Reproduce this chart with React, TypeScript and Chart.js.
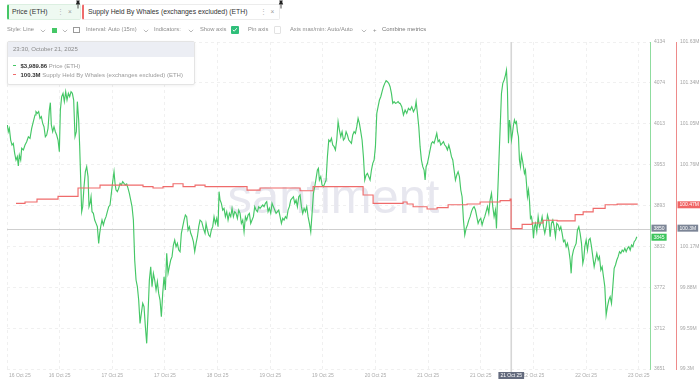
import React, { useEffect, useRef } from 'react';
import { Chart, registerables } from 'chart.js';

Chart.register(...registerables);

const FONT = '"Liberation Sans", Arial, sans-serif';

// Hours since the start of the visible range
const priceHours = [
  0.09, 0.35, 0.62, 0.98, 1.33, 1.68, 2.04, 2.39, 2.75, 3.01, 3.28, 3.64, 3.9, 4.35, 4.79, 5.23, 5.68, 6.12, 6.56, 7.0,
  7.45, 7.71, 8.07, 8.42, 8.78, 9.13, 9.49, 9.84, 10.2, 10.55, 10.91, 11.26, 11.53, 11.79, 12.15, 12.5, 12.86, 13.21, 13.57, 13.92,
  14.19, 14.54, 14.9, 15.25, 15.61, 15.96, 16.32, 16.67, 17.03, 17.38, 17.73, 18.09, 18.44, 18.71, 19.06, 19.33, 19.6, 19.86, 20.13, 20.48,
  20.84, 21.19, 21.55, 21.81, 22.08, 22.35, 22.61, 22.97, 23.32, 23.68, 24.03, 24.38, 24.65, 24.92, 25.27, 25.63, 25.98, 26.34, 26.69, 27.05,
  27.4, 27.75, 28.11, 28.46, 28.73, 29.0, 29.35, 29.7, 30.06, 30.41, 30.77, 31.12, 31.48, 31.83, 32.19, 32.54, 32.9, 33.25, 33.61, 33.96,
  34.32, 34.67, 35.02, 35.38, 35.73, 36.09, 36.44, 36.8, 37.15, 37.51, 37.86, 38.22, 38.57, 38.93, 39.28, 39.64, 39.99, 40.34, 40.7, 41.05,
  41.41, 41.76, 42.12, 42.47, 42.83, 43.18, 43.54, 43.89, 44.25, 44.6, 44.96, 45.31, 45.67, 46.02, 46.37, 46.73, 47.08, 47.44, 47.79, 48.15,
  48.5, 48.86, 49.21, 49.57, 49.92, 50.28, 50.63, 50.99, 51.34,
  51.78, 52.23, 52.67, 52.94, 53.29, 53.65, 54.0, 54.35, 54.71, 55.06, 55.42, 55.77, 56.13, 56.39, 56.66, 57.01, 57.37, 57.72, 58.08, 58.43,
  58.79, 59.14, 59.5, 59.85, 60.21, 60.56, 60.92, 61.27, 61.63, 61.98, 62.33, 62.69, 63.04, 63.4, 63.75, 64.11, 64.46, 64.82, 65.17, 65.53,
  65.88, 66.24, 66.59, 66.95, 67.3, 67.66, 68.01, 68.36, 68.72, 69.07, 69.43, 69.78, 70.14, 70.49, 70.85, 71.2, 71.56, 71.91, 72.27, 72.62,
  72.98, 73.33, 73.68, 74.04, 74.39, 74.75, 75.1, 75.46, 75.81, 76.17, 76.52, 76.88, 77.23, 77.59, 77.94, 78.3, 78.65, 79.01, 79.36, 79.71,
  80.07, 80.42, 80.78, 81.13, 81.49, 81.84, 82.2, 82.55, 82.82, 83.08, 83.44, 83.79, 84.15, 84.5, 84.86, 85.21, 85.57, 85.92, 86.28, 86.63,
  86.99, 87.34, 87.69, 88.05, 88.4, 88.76, 89.11, 89.47, 89.82, 90.18, 90.53, 90.89, 91.24, 91.6, 91.95, 92.31, 92.66, 93.02, 93.37, 93.72,
  94.08, 94.43, 94.79, 95.14, 95.5, 95.85, 96.21, 96.56, 96.92, 97.27, 97.63, 97.98, 98.34, 98.69, 99.05, 99.4, 99.75, 100.11, 100.46, 100.82,
  101.17, 101.53, 101.88, 102.24, 102.59, 102.95, 103.3, 103.66, 104.01, 104.37,
  104.54, 104.98, 105.43, 105.87, 106.31, 106.76, 107.2, 107.64, 108.09, 108.53, 108.8, 109.15, 109.51, 109.86, 110.21, 110.57, 110.92, 111.19, 111.46, 111.81,
  112.17, 112.52, 112.88, 113.23, 113.58, 113.94, 114.29, 114.65, 115.0, 115.36, 115.71, 116.07, 116.42, 116.78, 117.13, 117.49, 117.84, 118.2, 118.55, 118.9,
  119.26, 119.61, 119.97, 120.32, 120.68, 121.03, 121.39, 121.74, 122.1, 122.45, 122.81, 123.16, 123.52, 123.87, 124.22, 124.58, 124.93, 125.29, 125.64, 126.0,
  126.35, 126.71, 127.06, 127.42, 127.77, 128.13, 128.48, 128.84, 129.19, 129.54, 129.9, 130.17, 130.43, 130.7, 130.96, 131.23, 131.5, 131.85, 132.21, 132.56,
  132.83, 133.09, 133.36, 133.63, 133.89, 134.16, 134.42, 134.69, 134.95, 135.22, 135.49, 135.75, 136.02, 136.28, 136.55, 136.82, 137.08, 137.35, 137.61, 137.88,
  138.15, 138.41, 138.68, 138.94, 139.21, 139.48, 139.74, 140.01, 140.27, 140.54, 140.89, 141.25, 141.6, 141.96, 142.31, 142.67, 143.02, 143.38, 143.73, 144.09,
  144.44, 144.8, 145.15, 145.51, 145.86, 146.21, 146.57, 146.92, 147.28, 147.63, 147.99, 148.34, 148.7, 149.05, 149.41, 149.76, 150.03, 150.29, 150.65, 151.0,
  151.36, 151.71, 152.07, 152.42, 152.78, 153.13, 153.4, 153.66, 154.02, 154.37, 154.73, 155.08, 155.44, 155.79, 156.15, 156.5, 156.86, 157.21, 157.56, 157.92,
  158.27, 158.63, 158.98, 159.34, 159.69, 160.05, 160.4, 160.76, 161.11, 161.47, 161.82, 162.18, 162.53, 162.89, 163.24, 163.6, 163.95, 164.31, 164.66, 165.02,
  165.37, 165.73, 166.08, 166.44, 166.79, 167.15, 167.5,
];

const priceValues = [
  4011.4, 4001.5, 4006.5, 3989.2, 3981.8, 3984.3, 3969.5, 3959.7, 3964.6, 3950.8, 3967.1, 3959.7, 3976.9, 3974.5, 3981.8, 3986.8, 3994.1, 3991.7, 4006.5, 4016.3,
  4026.2, 4031.1, 4028.6, 4031.1, 4021.2, 4023.7, 4013.8, 4008.9, 3994.1, 3996.6, 4006.5, 4033.5, 4044.4, 4011.4, 4001.5, 4008.9, 4001.5, 3996.6, 3989.2, 3972.0,
  4033.5, 4053.2, 4058.2, 4045.9, 4060.6, 4048.3, 4058.2, 4053.2, 4060.6, 4058.2, 4048.3, 3994.1, 4001.5, 4045.9, 4018.8, 3979.4, 3930.1, 3883.4, 3890.8, 3920.3,
  3942.4, 3949.8, 3935.1, 3890.8, 3895.7, 3905.5, 3883.4, 3880.9, 3871.0, 3866.1, 3861.2, 3836.6, 3851.4, 3861.2, 3871.0, 3863.7, 3871.0, 3876.0, 3883.4, 3890.8,
  3893.2, 3910.4, 3927.7, 3942.4, 3925.2, 3915.4, 3912.9, 3917.8, 3925.2, 3922.8, 3927.7, 3925.2, 3922.8, 3924.2, 3917.8, 3910.4, 3900.6, 3890.8, 3871.0, 3812.0,
  3782.4, 3772.6, 3752.9, 3718.4, 3733.2, 3748.0, 3743.0, 3713.5, 3688.9, 3733.2, 3782.4, 3802.1, 3772.6, 3792.3, 3782.4, 3767.6, 3780.0, 3762.7, 3752.9, 3728.3,
  3762.7, 3787.3, 3767.6, 3821.8, 3792.3, 3802.1, 3812.0, 3816.9, 3834.1, 3841.5, 3831.7, 3836.6, 3826.7, 3824.3, 3851.4, 3861.2, 3871.0, 3878.4, 3876.0, 3856.3,
  3861.2, 3851.4, 3846.4, 3839.0, 3824.3, 3836.6, 3846.4, 3861.2, 3871.0,
  3868.6, 3858.7, 3851.4, 3866.1, 3856.3, 3848.9, 3846.4, 3856.3, 3861.2, 3876.0, 3866.1, 3873.5, 3861.2, 3912.9, 3900.6, 3895.7, 3885.8, 3888.3, 3876.0, 3883.4,
  3871.0, 3880.9, 3876.0, 3888.3, 3876.0, 3883.4, 3880.9, 3873.5, 3885.8, 3880.9, 3866.1, 3871.0, 3853.8, 3876.0, 3871.0, 3878.4, 3880.9, 3866.1, 3871.0, 3876.0,
  3890.8, 3885.8, 3883.4, 3890.8, 3888.3, 3890.8, 3893.2, 3890.8, 3895.7, 3898.1, 3883.4, 3888.3, 3880.9, 3895.7, 3890.8, 3885.8, 3880.9, 3883.4, 3885.8, 3876.0,
  3866.1, 3873.5, 3871.0, 3876.0, 3873.5, 3885.8, 3890.8, 3900.6, 3903.1, 3905.5, 3895.7, 3900.6, 3890.8, 3905.5, 3908.0, 3890.8, 3880.9, 3888.3, 3883.4, 3890.8,
  3876.0, 3866.1, 3853.8, 3880.9, 3910.4, 3920.3, 3932.6, 3944.9, 3947.4, 3930.1, 3935.1, 3922.8, 3920.3, 3925.2, 3930.1, 3964.6, 3989.2, 3986.8, 3991.7, 3981.8,
  3979.4, 3974.5, 3989.2, 4016.3, 4004.0, 3994.1, 4001.5, 3989.2, 3991.7, 4001.5, 3996.6, 3989.2, 3986.8, 3984.3, 3996.6, 4001.5, 3999.1, 4008.9, 4021.2, 4013.8,
  4001.5, 3989.2, 3964.6, 3930.1, 3937.5, 3940.0, 3935.1, 3930.1, 3944.9, 3954.8, 3959.7, 3979.4, 4028.6, 4038.5, 4048.3, 4053.2, 4060.6, 4068.0, 4072.9, 4076.9,
  4075.4, 4072.9, 4068.0, 4058.2, 4043.4, 4045.9, 4043.4, 4044.4, 4045.9, 4043.4,
  4043.4, 4038.5, 4026.2, 4033.5, 4028.6, 4036.0, 4033.5, 4038.5, 4031.1, 4036.0, 4045.9, 4028.6, 4008.9, 3979.4, 3959.7, 3949.8, 3944.9, 3930.1, 3949.8, 3954.8,
  3964.6, 3974.5, 3984.3, 3986.8, 3984.3, 3991.7, 3999.1, 3986.8, 3989.2, 3981.8, 3984.3, 3986.8, 3981.8, 3979.4, 3974.5, 3981.8, 3974.5, 3964.6, 3959.7, 3944.9,
  3930.1, 3937.5, 3942.4, 3935.1, 3915.4, 3905.5, 3871.0, 3848.9, 3858.7, 3863.7, 3871.0, 3876.0, 3883.4, 3888.3, 3890.8, 3885.8, 3876.0, 3866.1, 3871.0, 3873.5,
  3863.7, 3871.0, 3876.0, 3883.4, 3890.8, 3880.9, 3900.6, 3910.4, 3890.8, 3876.0, 3885.8, 3858.7, 3900.6, 3940.0, 3979.4, 4018.8, 4058.2, 4072.9, 4077.9, 4085.2,
  4092.6, 4063.1, 3984.3, 4018.8, 4008.9, 3989.2, 3999.1, 4011.4, 4018.8, 4013.8, 4016.3, 4001.5, 3994.1, 3959.7, 3949.8, 3967.1, 3959.7, 3949.8, 3940.0, 3944.9,
  3925.2, 3905.5, 3915.4, 3900.6, 3873.5, 3876.0, 3866.1, 3844.0, 3861.2, 3866.1, 3853.8, 3876.0, 3861.2, 3866.1, 3876.0, 3861.2, 3851.4, 3861.2, 3878.4, 3871.0,
  3846.4, 3866.1, 3871.0, 3861.2, 3846.4, 3866.1, 3863.7, 3856.3, 3861.2, 3851.4, 3839.0, 3841.5, 3831.7, 3836.6, 3826.7, 3812.0, 3792.3, 3816.9, 3826.7, 3831.7,
  3836.6, 3856.3, 3861.2, 3851.4, 3836.6, 3807.0, 3814.4, 3831.7, 3841.5, 3826.7, 3841.5, 3844.0, 3831.7, 3816.9, 3802.1, 3812.0, 3821.8, 3812.0, 3816.9, 3797.2,
  3802.1, 3787.3, 3772.6, 3730.7, 3743.0, 3752.9, 3757.8, 3748.0, 3772.6, 3799.7, 3804.6, 3812.0, 3816.9, 3824.3, 3821.8, 3826.7, 3824.3, 3829.2, 3824.3, 3829.2,
  3831.7, 3826.7, 3834.1, 3831.7, 3839.0, 3841.5, 3846.4,
];

// Whale supply in millions of ETH (changes only)
const supplyHours = [
  2.39, 4.79, 7.98, 13.57, 18.89, 24.74, 36.18, 38.84, 41.5, 44.16, 46.82, 50.01, 52.67, 63.84, 67.3, 77.94, 81.4, 94.7, 97.36, 105.34,
  106.4, 108.0, 111.72, 114.38, 117.31, 122.36, 125.82, 131.14, 133.8, 134.06, 136.99, 139.65, 142.58, 146.3, 151.09, 153.22, 155.88, 159.07, 162.26, 167.58,
];
const supplyValues = [
  100.48, 100.49, 100.51, 100.53, 100.59, 100.61, 100.6, 100.59, 100.6, 100.62, 100.6, 100.61, 100.6, 100.575, 100.59, 100.57, 100.6, 100.54, 100.48, 100.49,
  100.476, 100.456, 100.44, 100.45, 100.47, 100.476, 100.49, 100.5, 100.51, 100.3, 100.33, 100.34, 100.36, 100.355, 100.4, 100.42, 100.445, 100.47, 100.475, 100.47,
];

const priceMin = 3651;
const priceMax = 4134;
const priceTickLabels = ['3651', '3712', '3772', '3832', '3893', '3953', '4013', '4074', '4134'];
const supplyMin = 99.3;
const supplyMax = 101.63;
const supplyTickLabels = ['99.3M', '99.59M', '99.88M', '100.17M', '100.47M', '100.76M', '101.05M', '101.34M', '101.63M'];
const xMin = 0;
const xMax = 171;
const xTickHours = [0, 14, 28, 42, 56, 70, 84, 98, 112, 126, 140, 154, 168];
const xTickLabels = [
  '16 Oct 25', '16 Oct 25', '17 Oct 25', '17 Oct 25', '18 Oct 25', '19 Oct 25', '19 Oct 25',
  '20 Oct 25', '21 Oct 25', '21 Oct 25', '22 Oct 25', '22 Oct 25', '23 Oct 25',
];

const crosshairHour = 134.1;
const crosshairDateLabel = '21 Oct 25';
const crosshairSupply = 100.3;
const crosshairPriceTag = '3850';
const crosshairSupplyTag = '100.3M';
const lastPriceTag = '3845';
const lastSupplyTag = '100.47M';

const GREEN = '#45c766';
const RED = '#ef6b6b';

function evenTicks(min: number, max: number, n: number) {
  const out: { value: number }[] = [];
  for (let i = 0; i < n; i++) out.push({ value: min + ((max - min) * i) / (n - 1) });
  return out;
}

function drawTag(ctx: CanvasRenderingContext2D, x: number, y: number, text: string, bg: string) {
  ctx.font = `5px ${FONT}`;
  const w = ctx.measureText(text).width + 4;
  ctx.fillStyle = bg;
  ctx.fillRect(x, y - 3.5, w, 7);
  ctx.fillStyle = '#ffffff';
  ctx.textAlign = 'left';
  ctx.textBaseline = 'middle';
  ctx.fillText(text, x + 2, y + 0.3);
}

const overlayPlugin = {
  id: 'santOverlay',
  beforeDatasetsDraw(chart: any) {
    const { ctx, chartArea, scales } = chart;
    ctx.save();
    // watermark
    ctx.font = `50px ${FONT}`;
    const tw = ctx.measureText('santiment').width;
    const size = (50 * 212) / tw;
    ctx.font = `${size}px ${FONT}`;
    ctx.fillStyle = '#e7e7ef';
    ctx.textAlign = 'center';
    ctx.textBaseline = 'alphabetic';
    ctx.fillText('santiment', (chartArea.left + chartArea.right) / 2 + 5, chartArea.top + 171);
    // crosshair
    const cx = scales.x.getPixelForValue(crosshairHour);
    ctx.strokeStyle = '#d6d6d6';
    ctx.lineWidth = 1.6;
    ctx.beginPath();
    ctx.moveTo(cx, chartArea.top);
    ctx.lineTo(cx, chartArea.bottom + 3);
    ctx.stroke();
    const cy = scales.y1.getPixelForValue(crosshairSupply);
    ctx.strokeStyle = '#cfcfcf';
    ctx.lineWidth = 1;
    ctx.beginPath();
    ctx.moveTo(chartArea.left, Math.round(cy) + 0.5);
    ctx.lineTo(chartArea.right, Math.round(cy) + 0.5);
    ctx.stroke();
    ctx.restore();
  },
  afterDraw(chart: any) {
    const { ctx, chartArea, scales } = chart;
    ctx.save();
    // x labels
    ctx.font = `5px ${FONT}`;
    ctx.fillStyle = '#ababab';
    ctx.textBaseline = 'middle';
    ctx.textAlign = 'center';
    xTickHours.forEach((h, i) => {
      const label = xTickLabels[i];
      const w = ctx.measureText(label).width;
      let px = scales.x.getPixelForValue(h);
      px = Math.max(px, 9 + w / 2);
      px = Math.min(px, chartArea.right - w / 2 + 6);
      ctx.fillText(label, px, chartArea.bottom + 6.5);
    });
    // crosshair date box
    const cx = scales.x.getPixelForValue(crosshairHour);
    const dw = ctx.measureText(crosshairDateLabel).width + 4;
    ctx.fillStyle = '#646b7e';
    ctx.fillRect(cx - dw / 2, chartArea.bottom + 3, dw, 7);
    ctx.fillStyle = '#ffffff';
    ctx.fillText(crosshairDateLabel, cx, chartArea.bottom + 6.8);
    // tags
    const cy = scales.y1.getPixelForValue(crosshairSupply);
    drawTag(ctx, scales.y.left + 1.5, cy - 0.5, crosshairPriceTag, '#7c8596');
    drawTag(ctx, scales.y.left + 1.5, scales.y.getPixelForValue(priceValues[priceValues.length - 1]) + 0.5, lastPriceTag, '#3cc45c');
    drawTag(ctx, scales.y1.left + 1.5, cy - 0.5, crosshairSupplyTag, '#7c8596');
    drawTag(ctx, scales.y1.left + 1.5, scales.y1.getPixelForValue(supplyValues[supplyValues.length - 1]), lastSupplyTag, '#f06464');
    ctx.restore();
  },
};

const Chev = ({ x, y }: { x: number; y: number }) => (
  <svg style={{ position: 'absolute', left: x, top: y }} width={6} height={4}>
    <polyline points="0.8,0.8 3,3 5.2,0.8" fill="none" stroke="#a8a8a8" strokeWidth={0.8} />
  </svg>
);

const Pin = ({ x }: { x: number }) => (
  <svg style={{ position: 'absolute', left: x, top: 0 }} width={6} height={10}>
    <path d="M1.2 0.5 L4.8 0.5 L4.2 2 L5.2 4.6 L0.8 4.6 L1.8 2 Z" fill="#222" />
    <line x1={3} y1={4.6} x2={3} y2={8.5} stroke="#222" strokeWidth={0.8} />
  </svg>
);

const txt = (left: number, top: number, size: number, color: string, text: string, extra: any = {}) => (
  <div
    style={{
      position: 'absolute', left, top, fontSize: size, color, whiteSpace: 'nowrap', lineHeight: 1,
      fontFamily: FONT, ...extra,
    }}
  >
    {text}
  </div>
);

export default function App() {
  const ref = useRef<HTMLCanvasElement>(null);

  useEffect(() => {
    document.body.style.margin = '0';
    const canvas = ref.current!;
    const chart = new Chart(canvas, {
      type: 'line',
      data: {
        datasets: [
          {
            label: 'Price (ETH)',
            data: priceHours.map((h, i) => ({ x: h, y: priceValues[i] })),
            borderColor: GREEN,
            borderWidth: 1.15,
            pointRadius: 0,
            tension: 0,
            yAxisID: 'y',
            order: 1,
          },
          {
            label: 'Supply Held By Whales (exchanges excluded) (ETH)',
            data: supplyHours.map((h, i) => ({ x: h, y: supplyValues[i] })),
            borderColor: RED,
            borderWidth: 1.15,
            pointRadius: 0,
            stepped: 'before',
            yAxisID: 'y1',
            order: 0,
          },
        ],
      },
      options: {
        animation: false,
        responsive: false,
        maintainAspectRatio: false,
        layout: { padding: { left: 7, top: 42, right: 0, bottom: 12 } },
        plugins: { legend: { display: false }, tooltip: { enabled: false } },
        scales: {
          x: {
            type: 'linear',
            min: xMin,
            max: xMax,
            afterBuildTicks: (s: any) => { s.ticks = xTickHours.map((v) => ({ value: v })); },
            afterFit: (s: any) => { s.height = 0; },
            ticks: { display: false },
            grid: { color: '#ededed', lineWidth: 0.8, drawTicks: false },
            border: { display: false, dash: [3, 3] },
          },
          y: {
            type: 'linear',
            position: 'right',
            weight: 0,
            min: priceMin,
            max: priceMax,
            afterBuildTicks: (s: any) => { s.ticks = evenTicks(priceMin, priceMax, priceTickLabels.length); },
            afterFit: (s: any) => { s.width = 26; },
            ticks: {
              callback: (_v: any, i: number) => priceTickLabels[i],
              font: { size: 5, family: FONT },
              color: '#a6a6a6',
              padding: 4,
            },
            grid: { color: '#ededed', lineWidth: 0.8, drawTicks: false },
            border: { color: '#8fdc9f', width: 1, dash: [3, 3] },
          },
          y1: {
            type: 'linear',
            position: 'right',
            weight: 1,
            min: supplyMin,
            max: supplyMax,
            afterBuildTicks: (s: any) => { s.ticks = evenTicks(supplyMin, supplyMax, supplyTickLabels.length); },
            afterFit: (s: any) => { s.width = 24; },
            ticks: {
              callback: (_v: any, i: number) => supplyTickLabels[i],
              font: { size: 5, family: FONT },
              color: '#a6a6a6',
              padding: 4,
            },
            grid: { display: false, drawTicks: false },
            border: { color: '#ee8a8a', width: 1 },
          },
        },
      },
      plugins: [overlayPlugin],
    } as any);
    return () => chart.destroy();
  }, []);

  return (
    <div style={{ position: 'absolute', left: 0, top: 0, width: 700, height: 381, overflow: 'hidden', background: '#fff', fontFamily: FONT }}>
      <canvas ref={ref} width={700} height={381} style={{ position: 'absolute', left: 0, top: 0, width: 700, height: 381 }} />

      {/* metric tabs */}
      <div style={{ position: 'absolute', left: 7, top: 4, width: 74, height: 16, boxSizing: 'border-box', background: '#eef9f1', border: '1px solid #dcefe1', borderLeft: `2px solid ${GREEN}`, borderRadius: 2 }} />
      {txt(12, 9, 6.8, '#333', 'Price (ETH)')}
      {txt(56.5, 8.5, 6.5, '#b5b5b5', '⋮')}
      {txt(68, 8.5, 6.5, '#999', '×')}
      <Pin x={75} />
      <div style={{ position: 'absolute', left: 82, top: 4, width: 198, height: 16, boxSizing: 'border-box', background: '#fff', border: '1px solid #ececec', borderLeft: `2px solid ${RED}`, borderRadius: 2 }} />
      {txt(88, 9, 6.8, '#333', 'Supply Held By Whales (exchanges excluded) (ETH)')}
      {txt(259.5, 8.5, 6.5, '#b5b5b5', '⋮')}
      {txt(270.5, 8.5, 6.5, '#999', '×')}
      <Pin x={278} />

      {/* toolbar */}
      {txt(7, 27.3, 5.8, '#8c8c8c', 'Style: Line')}
      <Chev x={39.5} y={28.5} />
      <div style={{ position: 'absolute', left: 52, top: 27.5, width: 5, height: 5, background: GREEN }} />
      <Chev x={61.5} y={28.5} />
      <div style={{ position: 'absolute', left: 73, top: 26.5, width: 7, height: 6.5, boxSizing: 'border-box', border: '0.8px solid #9a9a9a', borderTop: '1.6px solid #9a9a9a' }} />
      {txt(86, 27.3, 5.8, '#8c8c8c', 'Interval: Auto (15m)')}
      <Chev x={142.5} y={28.5} />
      {txt(154, 27.3, 5.8, '#8c8c8c', 'Indicators:')}
      <Chev x={187.5} y={28.5} />
      {txt(200, 27.3, 5.8, '#8c8c8c', 'Show axis')}
      <div style={{ position: 'absolute', left: 231, top: 26, width: 7.5, height: 7.5, background: '#2fbf7a', borderRadius: 1 }}>
        <svg width={7.5} height={7.5} style={{ position: 'absolute', left: 0, top: 0 }}>
          <polyline points="1.8,3.8 3.2,5.2 5.8,2.2" fill="none" stroke="#fff" strokeWidth={0.9} />
        </svg>
      </div>
      {txt(248, 27.3, 5.8, '#8c8c8c', 'Pin axis')}
      <div style={{ position: 'absolute', left: 273.5, top: 26, width: 7.5, height: 7.5, boxSizing: 'border-box', border: '0.8px solid #e2e2e2', borderRadius: 1 }} />
      {txt(290, 27.3, 5.8, '#8c8c8c', 'Axis max/min: Auto/Auto')}
      <Chev x={360.5} y={28.5} />
      {txt(373, 27, 6, '#8c8c8c', '+')}
      {txt(382, 27.3, 5.9, '#777', 'Combine metrics')}

      {/* tooltip */}
      <div style={{ position: 'absolute', left: 7, top: 41, width: 188, height: 44, boxSizing: 'border-box', background: '#fff', border: '1px solid #e4e4e4', borderRadius: 2, boxShadow: '0 1px 3px rgba(0,0,0,0.06)' }}>
        <div style={{ position: 'absolute', left: 0, top: 0, right: 0, height: 15, background: '#eceef4' }} />
      </div>
      {txt(13, 45.5, 6, '#8a8a8a', '23:30, October 21, 2025')}
      <div style={{ position: 'absolute', left: 12.5, top: 65, width: 3.5, height: 1.2, background: GREEN }} />
      <div style={{ position: 'absolute', left: 20.5, top: 62.5, fontSize: 6, whiteSpace: 'nowrap', lineHeight: 1, fontFamily: FONT }}>
        <span style={{ color: '#333', fontWeight: 700 }}>$3,989.86</span>
        <span style={{ color: '#9a9a9a' }}> Price (ETH)</span>
      </div>
      <div style={{ position: 'absolute', left: 12.5, top: 74, width: 3.5, height: 1.2, background: RED }} />
      <div style={{ position: 'absolute', left: 20.5, top: 71.5, fontSize: 6, whiteSpace: 'nowrap', lineHeight: 1, fontFamily: FONT }}>
        <span style={{ color: '#333', fontWeight: 700 }}>100.3M</span>
        <span style={{ color: '#9a9a9a' }}> Supply Held By Whales (exchanges excluded) (ETH)</span>
      </div>
    </div>
  );
}
